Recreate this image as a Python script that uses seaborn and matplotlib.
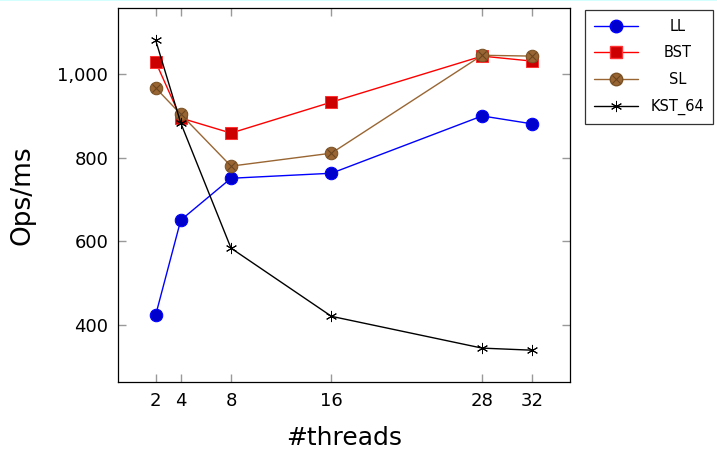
import numpy as np
import pandas as pd
import matplotlib
matplotlib.use("Agg")
import matplotlib.pyplot as plt
import seaborn as sns
from matplotlib.lines import Line2D
from matplotlib.legend_handler import HandlerTuple

threads = [2, 4, 8, 16, 28, 32]
ll = [424, 651, 751, 763, 900, 881]
bst = [1029, 895, 859, 933, 1043, 1031]
sl = [967, 904, 780, 811, 1045, 1043]
kst = [1081, 883, 584, 421, 345, 340]

df = pd.DataFrame({"threads": threads * 4,
                   "ops": ll + bst + sl + kst,
                   "ds": ["LL"] * 6 + ["BST"] * 6 + ["SL"] * 6 + ["KST_64"] * 6})

sns.set_style("ticks")
plt.rcParams["font.family"] = ["DejaVu Sans"]
plt.rcParams["text.color"] = "black"
plt.rcParams["axes.labelcolor"] = "black"

fig = plt.figure(figsize=(7.17, 4.5), dpi=100)
ax = fig.add_axes([118 / 717, 1 - 382 / 450, (570 - 118) / 717, (382 - 8) / 450])

# faint cyan strip along the top edge
fig.add_artist(Line2D([0, 1], [0.999, 0.999], transform=fig.transFigure,
                      color="#ccffff", lw=1.2))

brown = "#996633"
sns.lineplot(data=df[df.ds == "LL"], x="threads", y="ops", ax=ax, color="#0000ff",
             marker="o", markersize=9, markerfacecolor="#0000cc", markeredgecolor="#0000ff",
             lw=1, legend=False)
sns.lineplot(data=df[df.ds == "BST"], x="threads", y="ops", ax=ax, color="#ff0000",
             marker="s", markersize=9, markerfacecolor="#cc0000", markeredgecolor="#ff3333",
             lw=1, legend=False)
sns.lineplot(data=df[df.ds == "SL"], x="threads", y="ops", ax=ax, color=brown,
             marker="o", markersize=9, markerfacecolor=brown, markeredgecolor="#7a5226",
             lw=1, legend=False)
ax.plot(threads, sl, ls="none", marker="x", markersize=6, color="#6b4520", mew=0.8)
sns.lineplot(data=df[df.ds == "KST_64"], x="threads", y="ops", ax=ax, color="black",
             marker=(6, 2, 0), markersize=8, markeredgecolor="black", mew=0.7,
             lw=1, legend=False)

ax.set_xlim(-1, 35)
ax.set_ylim(264, 1158)
ax.set_xticks(threads)
ax.set_yticks([400, 600, 800, 1000])
ax.set_yticklabels(["400", "600", "800", "1,000"])
ax.tick_params(axis="both", which="major", direction="in", length=6, width=1,
               color="#999999", labelsize=13, labelcolor="black",
               top=True, right=True, bottom=True, left=True, pad=7)
for s in ax.spines.values():
    s.set_color("black")
    s.set_linewidth(0.9)
ax.set_xlabel("#threads", fontsize=18, labelpad=12)
ax.set_ylabel("Ops/ms", fontsize=19, labelpad=16)

h_ll = Line2D([], [], color="#0000ff", marker="o", markersize=9, markerfacecolor="#0000cc", lw=1)
h_bst = Line2D([], [], color="#ff0000", marker="s", markersize=9, markerfacecolor="#cc0000",
               markeredgecolor="#ff3333", lw=1)
h_sl1 = Line2D([], [], color=brown, marker="o", markersize=9, markerfacecolor=brown,
               markeredgecolor="#7a5226", lw=1)
h_sl2 = Line2D([], [], ls="none", marker="x", markersize=6, color="#6b4520", mew=0.8)
h_kst = Line2D([], [], color="black", marker=(6, 2, 0), markersize=8, lw=1, mew=0.7)
leg = fig.legend([h_ll, h_bst, (h_sl1, h_sl2), h_kst], ["LL", "BST", "SL", "KST_64"],
                 handler_map={tuple: HandlerTuple(ndivide=1, pad=0)},
                 loc="upper left", bbox_to_anchor=(585 / 717, 1 - 10 / 450),
                 fontsize=10.5, frameon=True, fancybox=False, edgecolor="black",
                 handlelength=3.0, borderpad=0.6, labelspacing=0.8, handletextpad=0.9,
                 borderaxespad=0)
leg.get_frame().set_linewidth(0.9)

# centre the legend labels in their column, as in the original
fig.canvas.draw()
r = fig.canvas.get_renderer()
widths = [t.get_window_extent(r).width for t in leg.get_texts()]
for t, w in zip(leg.get_texts(), widths):
    t.set_position(((max(widths) - w) / 2, 0))

fig.savefig("out.png", dpi=100)
